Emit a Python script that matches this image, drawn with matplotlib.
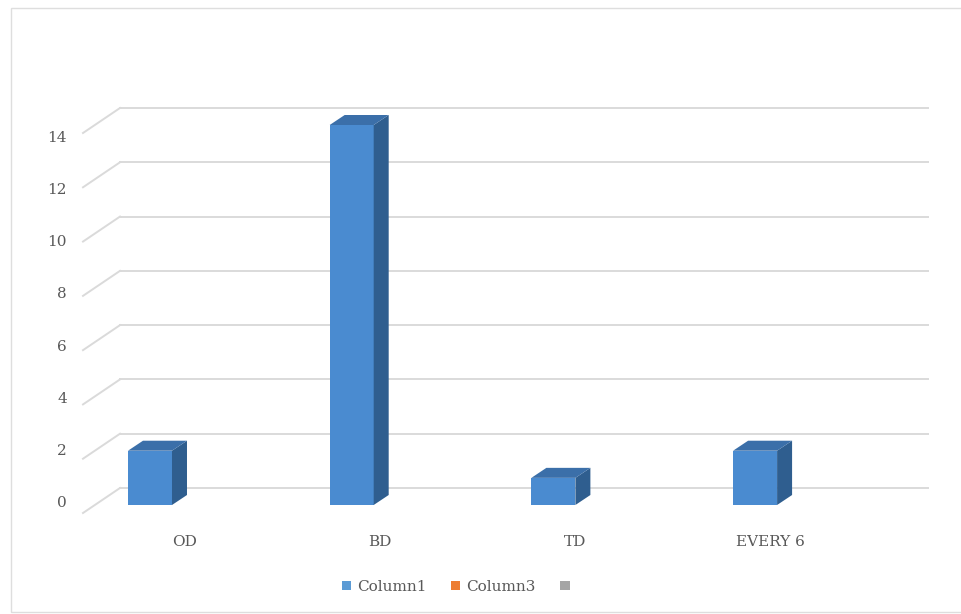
import matplotlib
matplotlib.use("Agg")
import matplotlib.pyplot as plt
from matplotlib.patches import Polygon, Patch, Rectangle

categories = ["OD", "BD", "TD", "EVERY 6"]
column1 = [2, 14, 1, 2]
legend_labels = ["Column1", "Column3", ""]
y_ticks = [0, 2, 4, 6, 8, 10, 12, 14]

W, H, DPI = 962, 614, 100
fig = plt.figure(figsize=(W / DPI, H / DPI), dpi=DPI)
fig.patch.set_facecolor("white")

# chart border (right edge falls outside the picture)
fig.patches.append(Rectangle((11 / W, 2 / H), 1.2, (H - 10) / H, transform=fig.transFigure,
                             fill=False, edgecolor="#dedede", linewidth=1.0))

ax_l, ax_r, ax_b, ax_t = 120, 928, 505, 125
ax = fig.add_axes([ax_l / W, (H - ax_b) / H, (ax_r - ax_l) / W, (ax_b - ax_t) / H])
xlim = (-0.1487, 3.8573)
ylim = (0, 14)
ax.set_xlim(*xlim)
ax.set_ylim(*ylim)
ax.set_facecolor("none")
for s in ax.spines.values():
    s.set_visible(False)
ax.set_xticks([])
ax.set_yticks([])

ux = (xlim[1] - xlim[0]) / (ax_r - ax_l)   # data units per pixel (x)
uy = (ylim[1] - ylim[0]) / (ax_b - ax_t)   # data units per pixel (y)

grid_c = "#dadada"
back_dy = 17 * uy
front_dx, front_dy = -37 * ux, -8 * uy
for v in y_ticks:
    yb = v + back_dy
    ax.plot([xlim[0], xlim[1]], [yb, yb], color=grid_c, lw=1.4, clip_on=False, zorder=1)
    ax.plot([xlim[0] + front_dx, xlim[0]], [v + front_dy, yb], color=grid_c, lw=1.4,
            clip_on=False, zorder=1)

# bars with 3D look
bw = 44 * ux
ddx, ddy = 15 * ux, 10 * uy
front_c, top_c, side_c = "#4A8BD0", "#3B6FA9", "#2F5E8F"
x = list(range(len(categories)))
ax.bar(x, column1, width=bw, color=front_c, zorder=3, clip_on=False)
for xi, v in zip(x, column1):
    l, r = xi - bw / 2, xi + bw / 2
    ax.add_patch(Polygon([(r, 0), (r + ddx, ddy), (r + ddx, v + ddy), (r, v)],
                         closed=True, facecolor=side_c, edgecolor="none", zorder=3, clip_on=False))
    ax.add_patch(Polygon([(l, v), (l + ddx, v + ddy), (r + ddx, v + ddy), (r, v)],
                         closed=True, facecolor=top_c, edgecolor="none", zorder=3, clip_on=False))

txt_c = "#595959"
font = "DejaVu Serif"

# value-axis labels (slight perspective compression)
lab_x = xlim[0] - 53 * ux
for t in y_ticks:
    ax.text(lab_x, 2 * uy + t * (26.07 / 27.14), str(t), ha="right", va="center",
            fontsize=11, color=txt_c, family=font, clip_on=False)

# category labels (slight perspective compression)
for xi, c in zip(x, categories):
    ax.text(xi * (195 / 201.7) + 35 * ux, -37 * uy, c, ha="center", va="center",
            fontsize=11, color=txt_c, family=font, clip_on=False)

handles = [Patch(facecolor="#5B9BD5"), Patch(facecolor="#ED7D31"), Patch(facecolor="#A5A5A5")]
fig.legend(handles, legend_labels, loc="center", bbox_to_anchor=(0.477, 0.044), ncol=3,
           frameon=False, handlelength=0.6, handleheight=0.6, handletextpad=0.4,
           columnspacing=1.6, prop={"family": font, "size": 11}, labelcolor=txt_c)

fig.savefig("out.png", dpi=DPI, facecolor="white")
